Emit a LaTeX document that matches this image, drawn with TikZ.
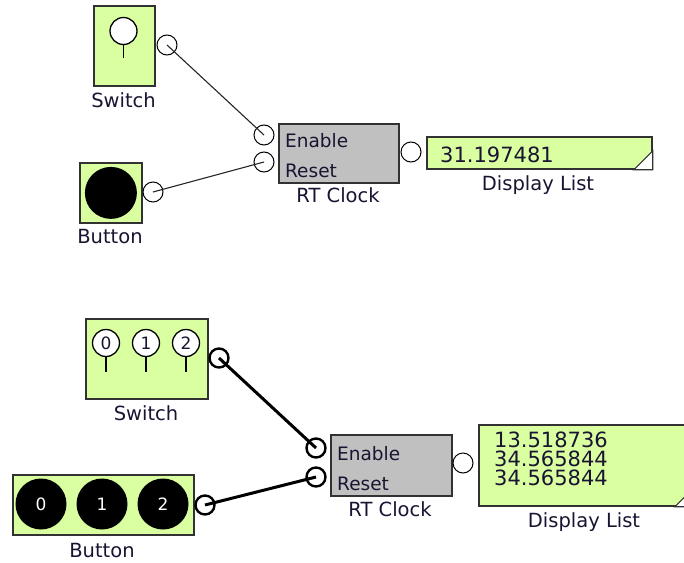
\documentclass[tikz,border=0pt]{standalone}
\usepackage{fontspec}
\setmainfont{DejaVu Sans}
\definecolor{lgreen}{RGB}{218,255,160}
\definecolor{gbox}{RGB}{192,192,192}
\definecolor{edge}{RGB}{50,50,50}
\definecolor{txt}{RGB}{25,20,50}
\tikzset{
  greenbox/.style={draw=edge, line width=1.8pt, fill=lgreen, anchor=north west, inner sep=0pt},
  graybox/.style={draw=edge, line width=1.8pt, fill=gbox, anchor=north west, inner sep=0pt},
  knob/.style={circle, draw=black, fill=white, line width=1.3pt, minimum size=27pt, inner sep=0pt,
    font=\fontsize{17}{19}\selectfont, text=txt},
  stem/.style={draw=black, line width=1.6pt},
  btn/.style={circle, fill=black, inner sep=0pt, font=\fontsize{17}{19}\selectfont, text=white},
  port/.style={circle, draw=black, fill=white, minimum size=20pt, inner sep=0pt, line width=1pt},
  bport/.style={port, line width=2.4pt, minimum size=19pt},
  wire/.style={draw=black!85, line width=1.1pt},
  bwire/.style={draw=black, line width=3pt},
  lbl/.style={font=\fontsize{19.5}{22}\selectfont, anchor=base, text=txt, inner sep=0pt},
  pinlbl/.style={font=\fontsize{18.5}{21}\selectfont, anchor=base west, text=txt, inner sep=0pt},
  val/.style={font=\fontsize{21}{19}\selectfont, anchor=base west, text=txt, inner sep=0pt},
  corner/.style={draw=edge, line width=1.2pt, fill=white}
}
\begin{document}
\begin{tikzpicture}[x=1pt, y=-1pt]
\useasboundingbox (0,0) rectangle (684,562);
\fill[white] (0,0) rectangle (684,562);

% ---------------- top diagram ----------------
% Switch
\node[greenbox, minimum width=61pt, minimum height=80pt] (sw1) at (93,5) {};
\node[knob] (k1) at (123.5,31) {};
\draw[stem] (k1.south) -- (123.5,58);
\node[lbl] (sw1l) at (123.5,107) {Switch};
% Button
\node[greenbox, minimum width=62pt, minimum height=60pt] (bt1) at (79,162) {};
\node[btn, minimum size=52pt] (b1) at (bt1.center) {};
\node[lbl] (bt1l) at (110,243) {Button};
% RT Clock
\node[graybox, minimum width=120pt, minimum height=59pt] (rt1) at (278,123) {};
\node[pinlbl] (rt1e) at (285,147) {Enable};
\node[pinlbl] (rt1r) at (285,177) {Reset};
\node[lbl] (rt1l) at (338,202) {RT Clock};
% Display List
\node[greenbox, minimum width=225pt, minimum height=32pt] (dl1) at (426,136) {};
\draw[corner] (dl1.south east) -- ++(-19,0) -- ++(19,-19) -- cycle;
\node[val] (dl1v) at (440,162) {31.197481};
\node[lbl] (dl1l) at (538,190) {Display List};
% ports
\node[port] (swp1) at (167,45) {};
\node[port] (btp1) at (153,192) {};
\node[port] (en1) at (264,135) {};
\node[port] (rs1) at (264,162) {};
\node[port] (out1) at (411,152) {};
% wires
\draw[wire] (swp1.center) -- (en1.center);
\draw[wire] (btp1.center) -- (rs1.center);

% ---------------- bottom diagram ----------------
% Switch
\node[greenbox, minimum width=122pt, minimum height=80pt] (sw2) at (85,318) {};
\node[knob] (k20) at (106,343) {0};
\node[knob] (k21) at (146,343) {1};
\node[knob] (k22) at (186,343) {2};
\draw[stem] (k20.south) -- (106,372);
\draw[stem] (k21.south) -- (146,372);
\draw[stem] (k22.south) -- (186,372);
\node[lbl] (sw2l) at (146,420) {Switch};
% Button
\node[greenbox, minimum width=181pt, minimum height=60pt] (bt2) at (12,474) {};
\node[btn, minimum size=51pt] (b20) at (41,504) {0};
\node[btn, minimum size=51pt] (b21) at (102,504) {1};
\node[btn, minimum size=51pt] (b22) at (163,504) {2};
\node[lbl] (bt2l) at (102,557) {Button};
% RT Clock
\node[graybox, minimum width=121pt, minimum height=61pt] (rt2) at (330,434) {};
\node[pinlbl] (rt2e) at (337,460) {Enable};
\node[pinlbl] (rt2r) at (337,490) {Reset};
\node[lbl] (rt2l) at (390,516) {RT Clock};
% Display List
\node[greenbox, minimum width=214pt, minimum height=81pt] (dl2) at (478,424) {};
\draw[corner] (dl2.south east) -- ++(-19,0) -- ++(19,-19) -- cycle;
\node[val] (dl2a) at (494,447) {13.518736};
\node[val] (dl2b) at (494,466) {34.565844};
\node[val] (dl2c) at (494,485) {34.565844};
\node[lbl] (dl2l) at (584,527) {Display List};
% ports
\node[bport] (swp2) at (219,358) {};
\node[bport] (btp2) at (205,505) {};
\node[bport] (en2) at (316,448) {};
\node[bport] (rs2) at (316,477) {};
\node[port] (out2) at (463,463) {};
% wires
\draw[bwire] (swp2.center) -- (en2.center);
\draw[bwire] (btp2.center) -- (rs2.center);
\end{tikzpicture}
\end{document}
